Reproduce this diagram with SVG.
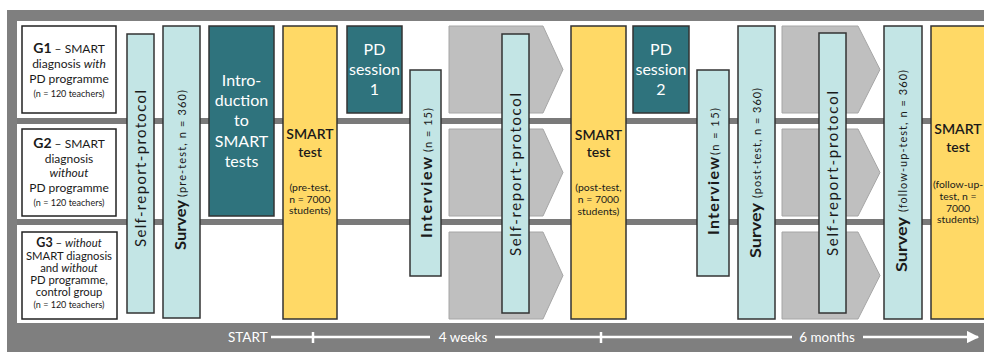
<svg xmlns="http://www.w3.org/2000/svg" width="984" height="352" viewBox="0 0 984 352">
<defs>
<style>
text{font-family:Lato,"Liberation Sans",sans-serif;fill:#1a1a1a}
.box{fill:#fff;stroke:#222;stroke-width:1.5}
.bar{fill:#c3e5e5;stroke:#333;stroke-width:1.5}
.dark{fill:#2f737d;stroke:#333;stroke-width:1.5}
.yel{fill:#ffd966;stroke:#333;stroke-width:1.5}
.chev{fill:#bfbfbf;stroke:#a6a6a6;stroke-width:1}
.lane{stroke:#7a7a7a;stroke-width:6}
.g{font-size:12px}
.g3{font-size:11.3px}
.gs{font-size:9px}
.w{fill:#fff;font-size:16px}
.st{font-size:14px;font-weight:600}
.sp{font-size:10.4px}
.v{font-size:15px}
.vb{font-size:16px;font-weight:bold}
.vs{font-size:11px}
.tl{fill:#fff;font-size:13.5px}
.axis{stroke:#fff;stroke-width:2.5;fill:none}
</style>
<marker id="arr" viewBox="0 0 10 10" refX="9" refY="5" markerWidth="5" markerHeight="5" orient="auto" markerUnits="strokeWidth">
<path d="M0,0 L10,5 L0,10 z" fill="#fff"/>
</marker>
</defs>
<rect x="0" y="0" width="984" height="352" fill="#fff"/>
<rect x="7" y="10" width="990" height="345" fill="#7f7f7f"/>
<rect x="17" y="21" width="980" height="302" fill="#fff"/>
<g id="lanes">
<line class="lane" x1="17" y1="121" x2="984" y2="121"/>
<line class="lane" x1="17" y1="222" x2="984" y2="222"/>
</g>

<g id="g1">
<rect class="box" x="22" y="26" width="94" height="87"/>
<text x="69" y="53" text-anchor="middle" class="g"><tspan font-weight="bold" font-size="14px">G1</tspan> – SMART</text>
<text x="69" y="68" text-anchor="middle" class="g">diagnosis <tspan font-style="italic">with</tspan></text>
<text x="69" y="83" text-anchor="middle" class="g">PD programme</text>
<text x="69" y="97" text-anchor="middle" class="gs">(n = 120 teachers)</text>
</g>
<g id="g2">
<rect class="box" x="22" y="129" width="94" height="87"/>
<text x="69" y="148" text-anchor="middle" class="g"><tspan font-weight="bold" font-size="14px">G2</tspan> – SMART</text>
<text x="69" y="163" text-anchor="middle" class="g">diagnosis</text>
<text x="69" y="177" text-anchor="middle" class="g" font-style="italic">without</text>
<text x="69" y="192" text-anchor="middle" class="g">PD programme</text>
<text x="69" y="206" text-anchor="middle" class="gs">(n = 120 teachers)</text>
</g>
<g id="g3">
<rect class="box" x="22" y="232" width="95" height="87"/>
<text x="69" y="247" text-anchor="middle" class="g3"><tspan font-weight="bold" font-size="12.5px">G3</tspan> – <tspan font-style="italic">without</tspan></text>
<text x="69" y="260" text-anchor="middle" class="g3">SMART diagnosis</text>
<text x="69" y="272" text-anchor="middle" class="g3">and <tspan font-style="italic">without</tspan></text>
<text x="69" y="284" text-anchor="middle" class="g3">PD programme,</text>
<text x="69" y="296" text-anchor="middle" class="g3">control group</text>
<text x="69" y="307.5" text-anchor="middle" class="gs">(n = 120 teachers)</text>
</g>

<g id="chevrons1">
<path class="chev" d="M449,26 H543 L563,69.5 L543,113 H449 Z"/>
<path class="chev" d="M449,129 H543 L563,172.5 L543,216 H449 Z"/>
<path class="chev" d="M449,232 H543 L563,275.5 L543,319 H449 Z"/>
</g>
<g id="chevrons2">
<path class="chev" d="M782,26 H858 L880,69.5 L858,113 H782 Z"/>
<path class="chev" d="M782,129 H858 L880,172.5 L858,216 H782 Z"/>
<path class="chev" d="M782,232 H858 L880,275.5 L858,319 H782 Z"/>
</g>

<g id="selfreport1">
<rect class="bar" x="127" y="34" width="27" height="279"/>
<text class="v" transform="translate(146,247) rotate(-90)" textLength="157" lengthAdjust="spacing">Self-report-protocol</text>
</g>
<g id="survey1">
<rect class="bar" x="163" y="26" width="37" height="292"/>
<text class="vb" transform="translate(186,250) rotate(-90)" textLength="50" lengthAdjust="spacingAndGlyphs">Survey</text>
<text class="vs" transform="translate(186,197) rotate(-90)" textLength="107" lengthAdjust="spacing">(pre-test, n = 360)</text>
</g>
<g id="intro">
<rect class="dark" x="209" y="26" width="65" height="190"/>
<text class="w" x="241.5" y="86" text-anchor="middle">Intro-</text>
<text class="w" x="241.5" y="106" text-anchor="middle">duction</text>
<text class="w" x="241.5" y="126" text-anchor="middle">to</text>
<text class="w" x="241.5" y="147" text-anchor="middle">SMART</text>
<text class="w" x="241.5" y="167" text-anchor="middle">tests</text>
</g>
<g id="smart1">
<rect class="yel" x="283" y="26" width="54" height="293"/>
<text class="st" x="310" y="139" text-anchor="middle">SMART</text>
<text class="st" x="310" y="157" text-anchor="middle">test</text>
<text class="sp" x="310" y="191" text-anchor="middle">(pre-test,</text>
<text class="sp" x="310" y="202.5" text-anchor="middle">n = 7000</text>
<text class="sp" x="310" y="214" text-anchor="middle">students)</text>
</g>
<g id="pd1">
<rect class="dark" x="347" y="26" width="55" height="87"/>
<text class="w" x="374.5" y="55" text-anchor="middle">PD</text>
<text class="w" x="374.5" y="75" text-anchor="middle">session</text>
<text class="w" x="374.5" y="95" text-anchor="middle">1</text>
</g>
<g id="interview1">
<rect class="bar" x="410" y="70" width="31" height="206"/>
<text class="vb" transform="translate(432,238) rotate(-90)" textLength="81" lengthAdjust="spacing">Interview</text>
<text class="vs" transform="translate(432,152) rotate(-90)" textLength="44" lengthAdjust="spacing">(n = 15)</text>
</g>
<g id="selfreport2">
<rect class="bar" x="502" y="34" width="27" height="279"/>
<text class="v" transform="translate(521,256) rotate(-90)" textLength="163" lengthAdjust="spacing">Self-report-protocol</text>
</g>
<g id="smart2">
<rect class="yel" x="571" y="26" width="55" height="293"/>
<text class="st" x="598.5" y="140" text-anchor="middle">SMART</text>
<text class="st" x="598.5" y="157" text-anchor="middle">test</text>
<text class="sp" x="598.5" y="191" text-anchor="middle">(post-test,</text>
<text class="sp" x="598.5" y="203" text-anchor="middle">n = 7000</text>
<text class="sp" x="598.5" y="215" text-anchor="middle">students)</text>
</g>
<g id="pd2">
<rect class="dark" x="633" y="26" width="56" height="87"/>
<text class="w" x="661" y="55" text-anchor="middle">PD</text>
<text class="w" x="661" y="75" text-anchor="middle">session</text>
<text class="w" x="661" y="95" text-anchor="middle">2</text>
</g>
<g id="interview2">
<rect class="bar" x="697" y="70" width="32" height="206"/>
<text class="vb" transform="translate(719,235) rotate(-90)" textLength="78" lengthAdjust="spacing">Interview</text>
<text class="vs" transform="translate(719,155) rotate(-90)" textLength="47" lengthAdjust="spacing">(n = 15)</text>
</g>
<g id="survey2">
<rect class="bar" x="738" y="26" width="37" height="293"/>
<text class="vb" transform="translate(761,258) rotate(-90)" textLength="55" lengthAdjust="spacingAndGlyphs">Survey</text>
<text class="vs" transform="translate(761,198) rotate(-90)" textLength="110" lengthAdjust="spacing">(post-test, n = 360)</text>
</g>
<g id="selfreport3">
<rect class="bar" x="819" y="33" width="27" height="280"/>
<text class="v" transform="translate(838,256) rotate(-90)" textLength="165" lengthAdjust="spacing">Self-report-protocol</text>
</g>
<g id="survey3">
<rect class="bar" x="884" y="26" width="38" height="293"/>
<text class="vb" transform="translate(907,272) rotate(-90)" textLength="55" lengthAdjust="spacingAndGlyphs">Survey</text>
<text class="vs" transform="translate(907,212) rotate(-90)" textLength="142" lengthAdjust="spacing">(follow-up-test, n = 360)</text>
</g>
<g id="smart3">
<rect class="yel" x="931" y="26" width="60" height="293"/>
<text class="st" x="958" y="134" text-anchor="middle">SMART</text>
<text class="st" x="958" y="152" text-anchor="middle">test</text>
<text class="sp" x="958" y="188" text-anchor="middle">(follow-up-</text>
<text class="sp" x="958" y="199.5" text-anchor="middle">test, n =</text>
<text class="sp" x="958" y="211.5" text-anchor="middle">7000</text>
<text class="sp" x="958" y="223" text-anchor="middle">students)</text>
</g>

<g id="connectors">
<line class="axis" x1="271" y1="337" x2="430" y2="337"/>
<line class="axis" x1="313" y1="332" x2="313" y2="343"/>
<line class="axis" x1="495" y1="337" x2="792" y2="337"/>
<line class="axis" x1="601" y1="332" x2="601" y2="343"/>
<line class="axis" x1="863" y1="337" x2="978" y2="337" marker-end="url(#arr)"/>
</g>
<g id="timeline-labels">
<text class="tl" x="228" y="342">START</text>
<text class="tl" x="463" y="342" text-anchor="middle">4 weeks</text>
<text class="tl" x="827" y="342" text-anchor="middle">6 months</text>
</g>
</svg>
